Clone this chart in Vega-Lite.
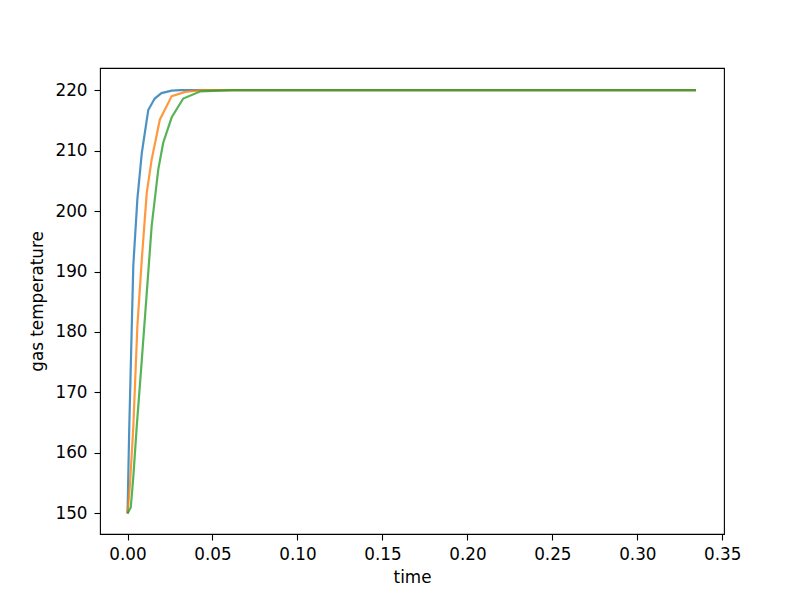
{
  "$schema": "https://vega.github.io/schema/vega-lite/v6.json",
  "autosize": "none",
  "width": 624,
  "height": 466,
  "padding": {"left": 100, "top": 68, "right": 76, "bottom": 62},
  "background": "white",
  "config": {
    "view": {"stroke": "#000000", "strokeWidth": 1.1},
    "axis": {
      "domain": false,
      "grid": false,
      "tickColor": "#000000",
      "tickSize": 6,
      "tickWidth": 1.1,
      "labelColor": "#000000",
      "labelFont": "DejaVu Sans",
      "labelFontSize": 16.8,
      "titleFont": "DejaVu Sans",
      "titleFontSize": 16.8,
      "titleFontWeight": "normal",
      "titleColor": "#000000"
    }
  },
  "data": {
    "values": [
      {"s": "a", "t": 0, "T": 150},
      {"s": "a", "t": 0.001, "T": 164},
      {"s": "a", "t": 0.0025, "T": 181},
      {"s": "a", "t": 0.0034, "T": 191},
      {"s": "a", "t": 0.0058, "T": 202},
      {"s": "a", "t": 0.0084, "T": 209.6},
      {"s": "a", "t": 0.0122, "T": 216.7},
      {"s": "a", "t": 0.016, "T": 218.6},
      {"s": "a", "t": 0.02, "T": 219.5},
      {"s": "a", "t": 0.026, "T": 219.9},
      {"s": "a", "t": 0.031, "T": 220},
      {"s": "a", "t": 0.3345, "T": 220},
      {"s": "b", "t": 0, "T": 150},
      {"s": "b", "t": 0.0015, "T": 155},
      {"s": "b", "t": 0.0034, "T": 164.3},
      {"s": "b", "t": 0.0058, "T": 181},
      {"s": "b", "t": 0.0084, "T": 192},
      {"s": "b", "t": 0.0113, "T": 203},
      {"s": "b", "t": 0.0142, "T": 208.5},
      {"s": "b", "t": 0.019, "T": 215.1},
      {"s": "b", "t": 0.026, "T": 219},
      {"s": "b", "t": 0.034, "T": 219.7},
      {"s": "b", "t": 0.043, "T": 220},
      {"s": "b", "t": 0.3345, "T": 220},
      {"s": "c", "t": 0, "T": 150},
      {"s": "c", "t": 0.0019, "T": 151},
      {"s": "c", "t": 0.0034, "T": 156},
      {"s": "c", "t": 0.0054, "T": 164.3},
      {"s": "c", "t": 0.0084, "T": 175.4},
      {"s": "c", "t": 0.0113, "T": 186.4},
      {"s": "c", "t": 0.0142, "T": 197.5},
      {"s": "c", "t": 0.0181, "T": 206.9},
      {"s": "c", "t": 0.021, "T": 211.3},
      {"s": "c", "t": 0.026, "T": 215.5},
      {"s": "c", "t": 0.0328, "T": 218.6},
      {"s": "c", "t": 0.043, "T": 219.8},
      {"s": "c", "t": 0.062, "T": 220},
      {"s": "c", "t": 0.3345, "T": 220}
    ]
  },
  "mark": {"type": "line", "strokeWidth": 2.2, "opacity": 0.8},
  "encoding": {
    "x": {
      "field": "t",
      "type": "quantitative",
      "title": "time",
      "scale": {"domain": [-0.0162, 0.351], "nice": false, "zero": false},
      "axis": {"values": [0, 0.05, 0.1, 0.15, 0.2, 0.25, 0.3, 0.35], "format": ".2f", "labelPadding": 6, "titlePadding": 7}
    },
    "y": {
      "field": "T",
      "type": "quantitative",
      "title": "gas temperature",
      "scale": {"domain": [146.6, 223.65], "nice": false, "zero": false},
      "axis": {"values": [150, 160, 170, 180, 190, 200, 210, 220], "labelPadding": 7, "titlePadding": 8}
    },
    "color": {
      "field": "s",
      "type": "nominal",
      "legend": null,
      "scale": {"domain": ["a", "b", "c"], "range": ["#1f77b4", "#ff7f0e", "#2ca02c"]}
    }
  }
}
